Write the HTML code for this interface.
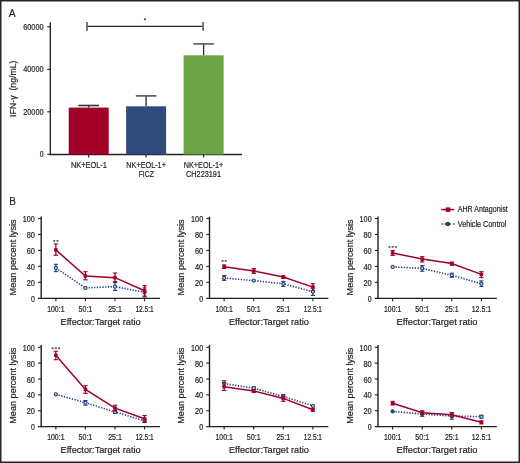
<!DOCTYPE html>
<html><head><meta charset="utf-8"><style>
html,body{margin:0;padding:0;background:#fff;}
svg{display:block;}
text{filter:grayscale(1);}
text{font-family:"Liberation Sans", sans-serif;stroke:#231f20;stroke-width:0.2px;}
</style></head><body>
<svg width="520" height="463" viewBox="0 0 520 463">
<rect x="0" y="0" width="520" height="463" fill="#fff"/>
<text x="8.7" y="17.4" font-size="11.6" text-anchor="start" fill="#231f20" textLength="6.9" lengthAdjust="spacingAndGlyphs" >A</text>
<line x1="50.3" y1="22.3" x2="50.3" y2="155.2" stroke="#231f20" stroke-width="1.3" />
<line x1="49.699999999999996" y1="154.5" x2="242" y2="154.5" stroke="#231f20" stroke-width="1.3" />
<line x1="47.2" y1="26.80000000000001" x2="50.3" y2="26.80000000000001" stroke="#231f20" stroke-width="1.1" />
<text x="43.6" y="29.900000000000013" font-size="9.0" text-anchor="end" fill="#231f20" textLength="20.4" lengthAdjust="spacingAndGlyphs" >60000</text>
<line x1="47.2" y1="69.30000000000001" x2="50.3" y2="69.30000000000001" stroke="#231f20" stroke-width="1.1" />
<text x="43.6" y="72.4" font-size="9.0" text-anchor="end" fill="#231f20" textLength="20.4" lengthAdjust="spacingAndGlyphs" >40000</text>
<line x1="47.2" y1="111.80000000000001" x2="50.3" y2="111.80000000000001" stroke="#231f20" stroke-width="1.1" />
<text x="43.6" y="114.9" font-size="9.0" text-anchor="end" fill="#231f20" textLength="20.4" lengthAdjust="spacingAndGlyphs" >20000</text>
<line x1="47.2" y1="154.3" x2="50.3" y2="154.3" stroke="#231f20" stroke-width="1.1" />
<text x="43.6" y="157.4" font-size="9.0" text-anchor="end" fill="#231f20" textLength="3.8" lengthAdjust="spacingAndGlyphs" >0</text>
<text transform="translate(16.4,0) rotate(-90)" x="-117.0" y="0" font-size="8.9" fill="#231f20" textLength="21.6" lengthAdjust="spacingAndGlyphs">IFN-&#947;</text>
<text transform="translate(16.4,0) rotate(-90)" x="-90.6" y="0" font-size="8.9" fill="#231f20" textLength="30.0" lengthAdjust="spacingAndGlyphs">(ng/mL)</text>
<rect x="68.7" y="107.60" width="40" height="46.90" fill="#a30028"/>
<line x1="88.7" y1="105.5" x2="88.7" y2="107.6" stroke="#2a2a2a" stroke-width="1.3" />
<line x1="78.4" y1="105.5" x2="99.0" y2="105.5" stroke="#333" stroke-width="1.6" />
<line x1="88.7" y1="154.5" x2="88.7" y2="157.4" stroke="#231f20" stroke-width="1.1" />
<rect x="126.1" y="106.30" width="40" height="48.20" fill="#2e4b7c"/>
<line x1="146.1" y1="95.9" x2="146.1" y2="106.3" stroke="#2a2a2a" stroke-width="1.3" />
<line x1="135.79999999999998" y1="95.9" x2="156.4" y2="95.9" stroke="#505050" stroke-width="1.6" />
<line x1="146.1" y1="154.5" x2="146.1" y2="157.4" stroke="#231f20" stroke-width="1.1" />
<rect x="183.6" y="55.30" width="40" height="99.20" fill="#6ba543"/>
<line x1="203.6" y1="43.9" x2="203.6" y2="55.3" stroke="#2a2a2a" stroke-width="1.3" />
<line x1="193.29999999999998" y1="43.9" x2="213.9" y2="43.9" stroke="#5a5a5a" stroke-width="1.6" />
<line x1="203.6" y1="154.5" x2="203.6" y2="157.4" stroke="#231f20" stroke-width="1.1" />
<line x1="87.0" y1="26.4" x2="203.1" y2="26.4" stroke="#262626" stroke-width="1.25" />
<line x1="87.0" y1="22.0" x2="87.0" y2="30.7" stroke="#6e6e6e" stroke-width="1.9" />
<line x1="203.1" y1="22.0" x2="203.1" y2="30.7" stroke="#6e6e6e" stroke-width="1.9" />
<circle cx="145" cy="19.3" r="1.05" fill="#333"/>
<text x="88.9" y="167.9" font-size="8.6" text-anchor="middle" fill="#231f20" textLength="36.0" lengthAdjust="spacingAndGlyphs" >NK+EOL-1</text>
<text x="146.1" y="167.9" font-size="8.6" text-anchor="middle" fill="#231f20" textLength="39.6" lengthAdjust="spacingAndGlyphs" >NK+EOL-1+</text>
<text x="146.3" y="176.9" font-size="8.6" text-anchor="middle" fill="#231f20" textLength="15.2" lengthAdjust="spacingAndGlyphs" >FICZ</text>
<text x="203.5" y="167.9" font-size="8.6" text-anchor="middle" fill="#231f20" textLength="39.6" lengthAdjust="spacingAndGlyphs" >NK+EOL-1+</text>
<text x="203.5" y="176.9" font-size="8.6" text-anchor="middle" fill="#231f20" textLength="34.9" lengthAdjust="spacingAndGlyphs" >CH223191</text>
<text x="9.2" y="204.8" font-size="11.2" text-anchor="start" fill="#231f20" textLength="6.6" lengthAdjust="spacingAndGlyphs" >B</text>
<line x1="41.2" y1="216.6" x2="41.2" y2="298.90000000000003" stroke="#231f20" stroke-width="1.4" />
<line x1="38.0" y1="298.3" x2="160.0" y2="298.3" stroke="#231f20" stroke-width="1.3" />
<text x="34.900000000000006" y="301.8" font-size="8.4" text-anchor="end" fill="#231f20" textLength="3.9" lengthAdjust="spacingAndGlyphs" >0</text>
<line x1="38.0" y1="282.34000000000003" x2="41.2" y2="282.34000000000003" stroke="#231f20" stroke-width="1.1" />
<text x="34.900000000000006" y="285.84000000000003" font-size="8.4" text-anchor="end" fill="#231f20" textLength="8.2" lengthAdjust="spacingAndGlyphs" >20</text>
<line x1="38.0" y1="266.38" x2="41.2" y2="266.38" stroke="#231f20" stroke-width="1.1" />
<text x="34.900000000000006" y="269.88" font-size="8.4" text-anchor="end" fill="#231f20" textLength="8.2" lengthAdjust="spacingAndGlyphs" >40</text>
<line x1="38.0" y1="250.42000000000002" x2="41.2" y2="250.42000000000002" stroke="#231f20" stroke-width="1.1" />
<text x="34.900000000000006" y="253.92000000000002" font-size="8.4" text-anchor="end" fill="#231f20" textLength="8.2" lengthAdjust="spacingAndGlyphs" >60</text>
<line x1="38.0" y1="234.46" x2="41.2" y2="234.46" stroke="#231f20" stroke-width="1.1" />
<text x="34.900000000000006" y="237.96" font-size="8.4" text-anchor="end" fill="#231f20" textLength="8.2" lengthAdjust="spacingAndGlyphs" >80</text>
<line x1="38.0" y1="218.5" x2="41.2" y2="218.5" stroke="#231f20" stroke-width="1.1" />
<text x="34.900000000000006" y="222.0" font-size="8.4" text-anchor="end" fill="#231f20" textLength="12.1" lengthAdjust="spacingAndGlyphs" >100</text>
<line x1="55.85" y1="298.3" x2="55.85" y2="301.2" stroke="#231f20" stroke-width="1.1" />
<text x="55.85" y="312.0" font-size="8.5" text-anchor="middle" fill="#231f20" textLength="17.4" lengthAdjust="spacingAndGlyphs" >100:1</text>
<line x1="85.43" y1="298.3" x2="85.43" y2="301.2" stroke="#231f20" stroke-width="1.1" />
<text x="85.43" y="312.0" font-size="8.5" text-anchor="middle" fill="#231f20" textLength="13.8" lengthAdjust="spacingAndGlyphs" >50:1</text>
<line x1="115.01" y1="298.3" x2="115.01" y2="301.2" stroke="#231f20" stroke-width="1.1" />
<text x="115.01" y="312.0" font-size="8.5" text-anchor="middle" fill="#231f20" textLength="13.7" lengthAdjust="spacingAndGlyphs" >25:1</text>
<line x1="144.59" y1="298.3" x2="144.59" y2="301.2" stroke="#231f20" stroke-width="1.1" />
<text x="144.59" y="312.0" font-size="8.5" text-anchor="middle" fill="#231f20" textLength="18.3" lengthAdjust="spacingAndGlyphs" >12.5:1</text>
<text x="100.6" y="324.90000000000003" font-size="9.1" text-anchor="middle" fill="#231f20" textLength="80.0" lengthAdjust="spacingAndGlyphs" >Effector:Target ratio</text>
<text transform="translate(15.900000000000002,257.45) rotate(-90)" font-size="8.9" text-anchor="middle" fill="#231f20" textLength="76.0" lengthAdjust="spacingAndGlyphs">Mean percent lysis</text>
<polyline points="55.85,268.00 85.43,287.90 115.01,286.60 144.59,292.30" fill="none" stroke="#233f80" stroke-width="1.6" stroke-dasharray="1.3 1.47"/>
<line x1="55.85" y1="264.3" x2="55.85" y2="271.6" stroke="#233f80" stroke-width="1.25" />
<line x1="53.75" y1="264.3" x2="57.95" y2="264.3" stroke="#233f80" stroke-width="1.1" />
<line x1="53.75" y1="271.6" x2="57.95" y2="271.6" stroke="#233f80" stroke-width="1.1" />
<circle cx="55.85" cy="268.00" r="1.6" fill="#c5d0e4" stroke="#233f80" stroke-width="1.1"/>
<circle cx="85.43" cy="287.90" r="1.6" fill="#c5d0e4" stroke="#233f80" stroke-width="1.1"/>
<line x1="115.01" y1="281.6" x2="115.01" y2="290.4" stroke="#233f80" stroke-width="1.25" />
<line x1="112.91000000000001" y1="281.6" x2="117.11" y2="281.6" stroke="#233f80" stroke-width="1.1" />
<line x1="112.91000000000001" y1="290.4" x2="117.11" y2="290.4" stroke="#233f80" stroke-width="1.1" />
<circle cx="115.01" cy="286.60" r="1.6" fill="#c5d0e4" stroke="#233f80" stroke-width="1.1"/>
<line x1="144.59" y1="287.9" x2="144.59" y2="297.0" stroke="#233f80" stroke-width="1.25" />
<line x1="142.49" y1="287.9" x2="146.69" y2="287.9" stroke="#233f80" stroke-width="1.1" />
<line x1="142.49" y1="297.0" x2="146.69" y2="297.0" stroke="#233f80" stroke-width="1.1" />
<circle cx="144.59" cy="292.30" r="1.6" fill="#c5d0e4" stroke="#233f80" stroke-width="1.1"/>
<polyline points="55.85,249.90 85.43,276.00 115.01,277.65 144.59,290.70" fill="none" stroke="#a2002b" stroke-width="1.5"/>
<line x1="55.85" y1="243.9" x2="55.85" y2="255.3" stroke="#a2002b" stroke-width="1.25" />
<line x1="53.65" y1="243.9" x2="58.050000000000004" y2="243.9" stroke="#a2002b" stroke-width="1.1" />
<line x1="53.65" y1="255.3" x2="58.050000000000004" y2="255.3" stroke="#a2002b" stroke-width="1.1" />
<rect x="54.05" y="248.10" width="3.6" height="3.6" rx="0.9" fill="#a2002b"/>
<line x1="85.43" y1="271.7" x2="85.43" y2="279.8" stroke="#a2002b" stroke-width="1.25" />
<line x1="83.23" y1="271.7" x2="87.63000000000001" y2="271.7" stroke="#a2002b" stroke-width="1.1" />
<line x1="83.23" y1="279.8" x2="87.63000000000001" y2="279.8" stroke="#a2002b" stroke-width="1.1" />
<rect x="83.63" y="274.20" width="3.6" height="3.6" rx="0.9" fill="#a2002b"/>
<line x1="115.01" y1="273.0" x2="115.01" y2="282.5" stroke="#a2002b" stroke-width="1.25" />
<line x1="112.81" y1="273.0" x2="117.21000000000001" y2="273.0" stroke="#a2002b" stroke-width="1.1" />
<line x1="112.81" y1="282.5" x2="117.21000000000001" y2="282.5" stroke="#a2002b" stroke-width="1.1" />
<rect x="113.21" y="275.85" width="3.6" height="3.6" rx="0.9" fill="#a2002b"/>
<line x1="144.59" y1="285.6" x2="144.59" y2="296.1" stroke="#a2002b" stroke-width="1.25" />
<line x1="142.39000000000001" y1="285.6" x2="146.79" y2="285.6" stroke="#a2002b" stroke-width="1.1" />
<line x1="142.39000000000001" y1="296.1" x2="146.79" y2="296.1" stroke="#a2002b" stroke-width="1.1" />
<rect x="142.79" y="288.90" width="3.6" height="3.6" rx="0.9" fill="#a2002b"/>
<rect x="53.20" y="239.95" width="2.1" height="1.9" rx="0.7" fill="#555"/>
<rect x="56.40" y="239.95" width="2.1" height="1.9" rx="0.7" fill="#555"/>
<line x1="209.5" y1="216.6" x2="209.5" y2="298.90000000000003" stroke="#231f20" stroke-width="1.4" />
<line x1="206.3" y1="298.3" x2="328.3" y2="298.3" stroke="#231f20" stroke-width="1.3" />
<text x="203.2" y="301.8" font-size="8.4" text-anchor="end" fill="#231f20" textLength="3.9" lengthAdjust="spacingAndGlyphs" >0</text>
<line x1="206.3" y1="282.34000000000003" x2="209.5" y2="282.34000000000003" stroke="#231f20" stroke-width="1.1" />
<text x="203.2" y="285.84000000000003" font-size="8.4" text-anchor="end" fill="#231f20" textLength="8.2" lengthAdjust="spacingAndGlyphs" >20</text>
<line x1="206.3" y1="266.38" x2="209.5" y2="266.38" stroke="#231f20" stroke-width="1.1" />
<text x="203.2" y="269.88" font-size="8.4" text-anchor="end" fill="#231f20" textLength="8.2" lengthAdjust="spacingAndGlyphs" >40</text>
<line x1="206.3" y1="250.42000000000002" x2="209.5" y2="250.42000000000002" stroke="#231f20" stroke-width="1.1" />
<text x="203.2" y="253.92000000000002" font-size="8.4" text-anchor="end" fill="#231f20" textLength="8.2" lengthAdjust="spacingAndGlyphs" >60</text>
<line x1="206.3" y1="234.46" x2="209.5" y2="234.46" stroke="#231f20" stroke-width="1.1" />
<text x="203.2" y="237.96" font-size="8.4" text-anchor="end" fill="#231f20" textLength="8.2" lengthAdjust="spacingAndGlyphs" >80</text>
<line x1="206.3" y1="218.5" x2="209.5" y2="218.5" stroke="#231f20" stroke-width="1.1" />
<text x="203.2" y="222.0" font-size="8.4" text-anchor="end" fill="#231f20" textLength="12.1" lengthAdjust="spacingAndGlyphs" >100</text>
<line x1="224.15" y1="298.3" x2="224.15" y2="301.2" stroke="#231f20" stroke-width="1.1" />
<text x="224.15" y="312.0" font-size="8.5" text-anchor="middle" fill="#231f20" textLength="17.4" lengthAdjust="spacingAndGlyphs" >100:1</text>
<line x1="253.73" y1="298.3" x2="253.73" y2="301.2" stroke="#231f20" stroke-width="1.1" />
<text x="253.73" y="312.0" font-size="8.5" text-anchor="middle" fill="#231f20" textLength="13.8" lengthAdjust="spacingAndGlyphs" >50:1</text>
<line x1="283.31" y1="298.3" x2="283.31" y2="301.2" stroke="#231f20" stroke-width="1.1" />
<text x="283.31" y="312.0" font-size="8.5" text-anchor="middle" fill="#231f20" textLength="13.7" lengthAdjust="spacingAndGlyphs" >25:1</text>
<line x1="312.89" y1="298.3" x2="312.89" y2="301.2" stroke="#231f20" stroke-width="1.1" />
<text x="312.89" y="312.0" font-size="8.5" text-anchor="middle" fill="#231f20" textLength="18.3" lengthAdjust="spacingAndGlyphs" >12.5:1</text>
<text x="268.9" y="324.90000000000003" font-size="9.1" text-anchor="middle" fill="#231f20" textLength="80.0" lengthAdjust="spacingAndGlyphs" >Effector:Target ratio</text>
<text transform="translate(184.2,257.45) rotate(-90)" font-size="8.9" text-anchor="middle" fill="#231f20" textLength="76.0" lengthAdjust="spacingAndGlyphs">Mean percent lysis</text>
<polyline points="224.15,278.00 253.73,280.60 283.31,283.80 312.89,291.80" fill="none" stroke="#233f80" stroke-width="1.6" stroke-dasharray="1.3 1.47"/>
<line x1="224.15" y1="275.6" x2="224.15" y2="280.4" stroke="#233f80" stroke-width="1.25" />
<line x1="222.05" y1="275.6" x2="226.25" y2="275.6" stroke="#233f80" stroke-width="1.1" />
<line x1="222.05" y1="280.4" x2="226.25" y2="280.4" stroke="#233f80" stroke-width="1.1" />
<circle cx="224.15" cy="278.00" r="1.6" fill="#c5d0e4" stroke="#233f80" stroke-width="1.1"/>
<circle cx="253.73" cy="280.60" r="1.6" fill="#c5d0e4" stroke="#233f80" stroke-width="1.1"/>
<line x1="283.31" y1="281.4" x2="283.31" y2="286.4" stroke="#233f80" stroke-width="1.25" />
<line x1="281.21" y1="281.4" x2="285.41" y2="281.4" stroke="#233f80" stroke-width="1.1" />
<line x1="281.21" y1="286.4" x2="285.41" y2="286.4" stroke="#233f80" stroke-width="1.1" />
<circle cx="283.31" cy="283.80" r="1.6" fill="#c5d0e4" stroke="#233f80" stroke-width="1.1"/>
<line x1="312.89" y1="288.2" x2="312.89" y2="295.4" stroke="#233f80" stroke-width="1.25" />
<line x1="310.78999999999996" y1="288.2" x2="314.99" y2="288.2" stroke="#233f80" stroke-width="1.1" />
<line x1="310.78999999999996" y1="295.4" x2="314.99" y2="295.4" stroke="#233f80" stroke-width="1.1" />
<circle cx="312.89" cy="291.80" r="1.6" fill="#c5d0e4" stroke="#233f80" stroke-width="1.1"/>
<polyline points="224.15,266.70 253.73,271.00 283.31,277.10 312.89,287.10" fill="none" stroke="#a2002b" stroke-width="1.5"/>
<line x1="224.15" y1="264.9" x2="224.15" y2="268.5" stroke="#a2002b" stroke-width="1.25" />
<line x1="221.95000000000002" y1="264.9" x2="226.35" y2="264.9" stroke="#a2002b" stroke-width="1.1" />
<line x1="221.95000000000002" y1="268.5" x2="226.35" y2="268.5" stroke="#a2002b" stroke-width="1.1" />
<rect x="222.35" y="264.90" width="3.6" height="3.6" rx="0.9" fill="#a2002b"/>
<line x1="253.73" y1="268.6" x2="253.73" y2="273.4" stroke="#a2002b" stroke-width="1.25" />
<line x1="251.53" y1="268.6" x2="255.92999999999998" y2="268.6" stroke="#a2002b" stroke-width="1.1" />
<line x1="251.53" y1="273.4" x2="255.92999999999998" y2="273.4" stroke="#a2002b" stroke-width="1.1" />
<rect x="251.93" y="269.20" width="3.6" height="3.6" rx="0.9" fill="#a2002b"/>
<line x1="283.31" y1="275.9" x2="283.31" y2="278.3" stroke="#a2002b" stroke-width="1.25" />
<line x1="281.11" y1="275.9" x2="285.51" y2="275.9" stroke="#a2002b" stroke-width="1.1" />
<line x1="281.11" y1="278.3" x2="285.51" y2="278.3" stroke="#a2002b" stroke-width="1.1" />
<rect x="281.51" y="275.30" width="3.6" height="3.6" rx="0.9" fill="#a2002b"/>
<line x1="312.89" y1="283.7" x2="312.89" y2="290.5" stroke="#a2002b" stroke-width="1.25" />
<line x1="310.69" y1="283.7" x2="315.09" y2="283.7" stroke="#a2002b" stroke-width="1.1" />
<line x1="310.69" y1="290.5" x2="315.09" y2="290.5" stroke="#a2002b" stroke-width="1.1" />
<rect x="311.09" y="285.30" width="3.6" height="3.6" rx="0.9" fill="#a2002b"/>
<rect x="221.50" y="259.95" width="2.1" height="1.9" rx="0.7" fill="#555"/>
<rect x="224.70" y="259.95" width="2.1" height="1.9" rx="0.7" fill="#555"/>
<line x1="378.0" y1="216.6" x2="378.0" y2="298.90000000000003" stroke="#231f20" stroke-width="1.4" />
<line x1="374.8" y1="298.3" x2="496.8" y2="298.3" stroke="#231f20" stroke-width="1.3" />
<text x="371.7" y="301.8" font-size="8.4" text-anchor="end" fill="#231f20" textLength="3.9" lengthAdjust="spacingAndGlyphs" >0</text>
<line x1="374.8" y1="282.34000000000003" x2="378.0" y2="282.34000000000003" stroke="#231f20" stroke-width="1.1" />
<text x="371.7" y="285.84000000000003" font-size="8.4" text-anchor="end" fill="#231f20" textLength="8.2" lengthAdjust="spacingAndGlyphs" >20</text>
<line x1="374.8" y1="266.38" x2="378.0" y2="266.38" stroke="#231f20" stroke-width="1.1" />
<text x="371.7" y="269.88" font-size="8.4" text-anchor="end" fill="#231f20" textLength="8.2" lengthAdjust="spacingAndGlyphs" >40</text>
<line x1="374.8" y1="250.42000000000002" x2="378.0" y2="250.42000000000002" stroke="#231f20" stroke-width="1.1" />
<text x="371.7" y="253.92000000000002" font-size="8.4" text-anchor="end" fill="#231f20" textLength="8.2" lengthAdjust="spacingAndGlyphs" >60</text>
<line x1="374.8" y1="234.46" x2="378.0" y2="234.46" stroke="#231f20" stroke-width="1.1" />
<text x="371.7" y="237.96" font-size="8.4" text-anchor="end" fill="#231f20" textLength="8.2" lengthAdjust="spacingAndGlyphs" >80</text>
<line x1="374.8" y1="218.5" x2="378.0" y2="218.5" stroke="#231f20" stroke-width="1.1" />
<text x="371.7" y="222.0" font-size="8.4" text-anchor="end" fill="#231f20" textLength="12.1" lengthAdjust="spacingAndGlyphs" >100</text>
<line x1="392.65" y1="298.3" x2="392.65" y2="301.2" stroke="#231f20" stroke-width="1.1" />
<text x="392.65" y="312.0" font-size="8.5" text-anchor="middle" fill="#231f20" textLength="17.4" lengthAdjust="spacingAndGlyphs" >100:1</text>
<line x1="422.23" y1="298.3" x2="422.23" y2="301.2" stroke="#231f20" stroke-width="1.1" />
<text x="422.23" y="312.0" font-size="8.5" text-anchor="middle" fill="#231f20" textLength="13.8" lengthAdjust="spacingAndGlyphs" >50:1</text>
<line x1="451.81" y1="298.3" x2="451.81" y2="301.2" stroke="#231f20" stroke-width="1.1" />
<text x="451.81" y="312.0" font-size="8.5" text-anchor="middle" fill="#231f20" textLength="13.7" lengthAdjust="spacingAndGlyphs" >25:1</text>
<line x1="481.39" y1="298.3" x2="481.39" y2="301.2" stroke="#231f20" stroke-width="1.1" />
<text x="481.39" y="312.0" font-size="8.5" text-anchor="middle" fill="#231f20" textLength="19.2" lengthAdjust="spacingAndGlyphs" >12.5:1</text>
<text x="437.0" y="324.90000000000003" font-size="9.1" text-anchor="middle" fill="#231f20" textLength="80.8" lengthAdjust="spacingAndGlyphs" >Effector:Target ratio</text>
<text transform="translate(352.7,257.45) rotate(-90)" font-size="8.9" text-anchor="middle" fill="#231f20" textLength="76.0" lengthAdjust="spacingAndGlyphs">Mean percent lysis</text>
<polyline points="392.65,266.90 422.23,268.40 451.81,275.30 481.39,283.70" fill="none" stroke="#233f80" stroke-width="1.6" stroke-dasharray="1.3 1.47"/>
<circle cx="392.65" cy="266.90" r="1.6" fill="#c5d0e4" stroke="#233f80" stroke-width="1.1"/>
<line x1="422.23" y1="265.7" x2="422.23" y2="271.2" stroke="#233f80" stroke-width="1.25" />
<line x1="420.13" y1="265.7" x2="424.33000000000004" y2="265.7" stroke="#233f80" stroke-width="1.1" />
<line x1="420.13" y1="271.2" x2="424.33000000000004" y2="271.2" stroke="#233f80" stroke-width="1.1" />
<circle cx="422.23" cy="268.40" r="1.6" fill="#c5d0e4" stroke="#233f80" stroke-width="1.1"/>
<line x1="451.81" y1="273.2" x2="451.81" y2="277.3" stroke="#233f80" stroke-width="1.25" />
<line x1="449.71" y1="273.2" x2="453.91" y2="273.2" stroke="#233f80" stroke-width="1.1" />
<line x1="449.71" y1="277.3" x2="453.91" y2="277.3" stroke="#233f80" stroke-width="1.1" />
<circle cx="451.81" cy="275.30" r="1.6" fill="#c5d0e4" stroke="#233f80" stroke-width="1.1"/>
<line x1="481.39" y1="280.9" x2="481.39" y2="286.5" stroke="#233f80" stroke-width="1.25" />
<line x1="479.28999999999996" y1="280.9" x2="483.49" y2="280.9" stroke="#233f80" stroke-width="1.1" />
<line x1="479.28999999999996" y1="286.5" x2="483.49" y2="286.5" stroke="#233f80" stroke-width="1.1" />
<circle cx="481.39" cy="283.70" r="1.6" fill="#c5d0e4" stroke="#233f80" stroke-width="1.1"/>
<polyline points="392.65,253.00 422.23,259.10 451.81,263.60 481.39,274.40" fill="none" stroke="#a2002b" stroke-width="1.5"/>
<line x1="392.65" y1="250.6" x2="392.65" y2="255.4" stroke="#a2002b" stroke-width="1.25" />
<line x1="390.45" y1="250.6" x2="394.84999999999997" y2="250.6" stroke="#a2002b" stroke-width="1.1" />
<line x1="390.45" y1="255.4" x2="394.84999999999997" y2="255.4" stroke="#a2002b" stroke-width="1.1" />
<rect x="390.85" y="251.20" width="3.6" height="3.6" rx="0.9" fill="#a2002b"/>
<line x1="422.23" y1="256.7" x2="422.23" y2="262.0" stroke="#a2002b" stroke-width="1.25" />
<line x1="420.03000000000003" y1="256.7" x2="424.43" y2="256.7" stroke="#a2002b" stroke-width="1.1" />
<line x1="420.03000000000003" y1="262.0" x2="424.43" y2="262.0" stroke="#a2002b" stroke-width="1.1" />
<rect x="420.43" y="257.30" width="3.6" height="3.6" rx="0.9" fill="#a2002b"/>
<line x1="451.81" y1="262.2" x2="451.81" y2="265.2" stroke="#a2002b" stroke-width="1.25" />
<line x1="449.61" y1="262.2" x2="454.01" y2="262.2" stroke="#a2002b" stroke-width="1.1" />
<line x1="449.61" y1="265.2" x2="454.01" y2="265.2" stroke="#a2002b" stroke-width="1.1" />
<rect x="450.01" y="261.80" width="3.6" height="3.6" rx="0.9" fill="#a2002b"/>
<line x1="481.39" y1="271.7" x2="481.39" y2="277.6" stroke="#a2002b" stroke-width="1.25" />
<line x1="479.19" y1="271.7" x2="483.59" y2="271.7" stroke="#a2002b" stroke-width="1.1" />
<line x1="479.19" y1="277.6" x2="483.59" y2="277.6" stroke="#a2002b" stroke-width="1.1" />
<rect x="479.59" y="272.60" width="3.6" height="3.6" rx="0.9" fill="#a2002b"/>
<rect x="388.40" y="245.95" width="2.1" height="1.9" rx="0.7" fill="#555"/>
<rect x="391.60" y="245.95" width="2.1" height="1.9" rx="0.7" fill="#555"/>
<rect x="394.80" y="245.95" width="2.1" height="1.9" rx="0.7" fill="#555"/>
<line x1="41.2" y1="344.9" x2="41.2" y2="427.20000000000005" stroke="#231f20" stroke-width="1.4" />
<line x1="38.0" y1="426.6" x2="160.0" y2="426.6" stroke="#231f20" stroke-width="1.3" />
<text x="34.900000000000006" y="430.1" font-size="8.4" text-anchor="end" fill="#231f20" textLength="3.9" lengthAdjust="spacingAndGlyphs" >0</text>
<line x1="38.0" y1="410.74" x2="41.2" y2="410.74" stroke="#231f20" stroke-width="1.1" />
<text x="34.900000000000006" y="414.24" font-size="8.4" text-anchor="end" fill="#231f20" textLength="8.2" lengthAdjust="spacingAndGlyphs" >20</text>
<line x1="38.0" y1="394.88" x2="41.2" y2="394.88" stroke="#231f20" stroke-width="1.1" />
<text x="34.900000000000006" y="398.38" font-size="8.4" text-anchor="end" fill="#231f20" textLength="8.2" lengthAdjust="spacingAndGlyphs" >40</text>
<line x1="38.0" y1="379.02" x2="41.2" y2="379.02" stroke="#231f20" stroke-width="1.1" />
<text x="34.900000000000006" y="382.52" font-size="8.4" text-anchor="end" fill="#231f20" textLength="8.2" lengthAdjust="spacingAndGlyphs" >60</text>
<line x1="38.0" y1="363.16" x2="41.2" y2="363.16" stroke="#231f20" stroke-width="1.1" />
<text x="34.900000000000006" y="366.66" font-size="8.4" text-anchor="end" fill="#231f20" textLength="8.2" lengthAdjust="spacingAndGlyphs" >80</text>
<line x1="38.0" y1="347.3" x2="41.2" y2="347.3" stroke="#231f20" stroke-width="1.1" />
<text x="34.900000000000006" y="350.8" font-size="8.4" text-anchor="end" fill="#231f20" textLength="12.1" lengthAdjust="spacingAndGlyphs" >100</text>
<line x1="55.85" y1="426.6" x2="55.85" y2="429.5" stroke="#231f20" stroke-width="1.1" />
<text x="55.85" y="440.3" font-size="8.5" text-anchor="middle" fill="#231f20" textLength="17.4" lengthAdjust="spacingAndGlyphs" >100:1</text>
<line x1="85.43" y1="426.6" x2="85.43" y2="429.5" stroke="#231f20" stroke-width="1.1" />
<text x="85.43" y="440.3" font-size="8.5" text-anchor="middle" fill="#231f20" textLength="13.8" lengthAdjust="spacingAndGlyphs" >50:1</text>
<line x1="115.01" y1="426.6" x2="115.01" y2="429.5" stroke="#231f20" stroke-width="1.1" />
<text x="115.01" y="440.3" font-size="8.5" text-anchor="middle" fill="#231f20" textLength="13.7" lengthAdjust="spacingAndGlyphs" >25:1</text>
<line x1="144.59" y1="426.6" x2="144.59" y2="429.5" stroke="#231f20" stroke-width="1.1" />
<text x="144.59" y="440.3" font-size="8.5" text-anchor="middle" fill="#231f20" textLength="18.3" lengthAdjust="spacingAndGlyphs" >12.5:1</text>
<text x="100.6" y="453.20000000000005" font-size="9.1" text-anchor="middle" fill="#231f20" textLength="80.0" lengthAdjust="spacingAndGlyphs" >Effector:Target ratio</text>
<text transform="translate(15.900000000000002,385.75) rotate(-90)" font-size="8.9" text-anchor="middle" fill="#231f20" textLength="76.0" lengthAdjust="spacingAndGlyphs">Mean percent lysis</text>
<polyline points="55.85,394.30 85.43,402.70 115.01,412.00 144.59,420.80" fill="none" stroke="#233f80" stroke-width="1.6" stroke-dasharray="1.3 1.47"/>
<circle cx="55.85" cy="394.30" r="1.6" fill="#c5d0e4" stroke="#233f80" stroke-width="1.1"/>
<line x1="85.43" y1="400.6" x2="85.43" y2="405.2" stroke="#233f80" stroke-width="1.25" />
<line x1="83.33000000000001" y1="400.6" x2="87.53" y2="400.6" stroke="#233f80" stroke-width="1.1" />
<line x1="83.33000000000001" y1="405.2" x2="87.53" y2="405.2" stroke="#233f80" stroke-width="1.1" />
<circle cx="85.43" cy="402.70" r="1.6" fill="#c5d0e4" stroke="#233f80" stroke-width="1.1"/>
<line x1="115.01" y1="410.6" x2="115.01" y2="413.4" stroke="#233f80" stroke-width="1.25" />
<line x1="112.91000000000001" y1="410.6" x2="117.11" y2="410.6" stroke="#233f80" stroke-width="1.1" />
<line x1="112.91000000000001" y1="413.4" x2="117.11" y2="413.4" stroke="#233f80" stroke-width="1.1" />
<circle cx="115.01" cy="412.00" r="1.6" fill="#c5d0e4" stroke="#233f80" stroke-width="1.1"/>
<line x1="144.59" y1="419.4" x2="144.59" y2="422.2" stroke="#233f80" stroke-width="1.25" />
<line x1="142.49" y1="419.4" x2="146.69" y2="419.4" stroke="#233f80" stroke-width="1.1" />
<line x1="142.49" y1="422.2" x2="146.69" y2="422.2" stroke="#233f80" stroke-width="1.1" />
<circle cx="144.59" cy="420.80" r="1.6" fill="#c5d0e4" stroke="#233f80" stroke-width="1.1"/>
<polyline points="55.85,355.30 85.43,389.40 115.01,408.10 144.59,418.70" fill="none" stroke="#a2002b" stroke-width="1.5"/>
<line x1="55.85" y1="351.3" x2="55.85" y2="359.7" stroke="#a2002b" stroke-width="1.25" />
<line x1="53.65" y1="351.3" x2="58.050000000000004" y2="351.3" stroke="#a2002b" stroke-width="1.1" />
<line x1="53.65" y1="359.7" x2="58.050000000000004" y2="359.7" stroke="#a2002b" stroke-width="1.1" />
<rect x="54.05" y="353.50" width="3.6" height="3.6" rx="0.9" fill="#a2002b"/>
<line x1="85.43" y1="385.7" x2="85.43" y2="393.4" stroke="#a2002b" stroke-width="1.25" />
<line x1="83.23" y1="385.7" x2="87.63000000000001" y2="385.7" stroke="#a2002b" stroke-width="1.1" />
<line x1="83.23" y1="393.4" x2="87.63000000000001" y2="393.4" stroke="#a2002b" stroke-width="1.1" />
<rect x="83.63" y="387.60" width="3.6" height="3.6" rx="0.9" fill="#a2002b"/>
<line x1="115.01" y1="405.2" x2="115.01" y2="411.0" stroke="#a2002b" stroke-width="1.25" />
<line x1="112.81" y1="405.2" x2="117.21000000000001" y2="405.2" stroke="#a2002b" stroke-width="1.1" />
<line x1="112.81" y1="411.0" x2="117.21000000000001" y2="411.0" stroke="#a2002b" stroke-width="1.1" />
<rect x="113.21" y="406.30" width="3.6" height="3.6" rx="0.9" fill="#a2002b"/>
<line x1="144.59" y1="415.5" x2="144.59" y2="422.4" stroke="#a2002b" stroke-width="1.25" />
<line x1="142.39000000000001" y1="415.5" x2="146.79" y2="415.5" stroke="#a2002b" stroke-width="1.1" />
<line x1="142.39000000000001" y1="422.4" x2="146.79" y2="422.4" stroke="#a2002b" stroke-width="1.1" />
<rect x="142.79" y="416.90" width="3.6" height="3.6" rx="0.9" fill="#a2002b"/>
<rect x="51.60" y="347.25" width="2.1" height="1.9" rx="0.7" fill="#555"/>
<rect x="54.80" y="347.25" width="2.1" height="1.9" rx="0.7" fill="#555"/>
<rect x="58.00" y="347.25" width="2.1" height="1.9" rx="0.7" fill="#555"/>
<line x1="209.5" y1="344.9" x2="209.5" y2="427.20000000000005" stroke="#231f20" stroke-width="1.4" />
<line x1="206.3" y1="426.6" x2="328.3" y2="426.6" stroke="#231f20" stroke-width="1.3" />
<text x="203.2" y="430.1" font-size="8.4" text-anchor="end" fill="#231f20" textLength="3.9" lengthAdjust="spacingAndGlyphs" >0</text>
<line x1="206.3" y1="410.74" x2="209.5" y2="410.74" stroke="#231f20" stroke-width="1.1" />
<text x="203.2" y="414.24" font-size="8.4" text-anchor="end" fill="#231f20" textLength="8.2" lengthAdjust="spacingAndGlyphs" >20</text>
<line x1="206.3" y1="394.88" x2="209.5" y2="394.88" stroke="#231f20" stroke-width="1.1" />
<text x="203.2" y="398.38" font-size="8.4" text-anchor="end" fill="#231f20" textLength="8.2" lengthAdjust="spacingAndGlyphs" >40</text>
<line x1="206.3" y1="379.02" x2="209.5" y2="379.02" stroke="#231f20" stroke-width="1.1" />
<text x="203.2" y="382.52" font-size="8.4" text-anchor="end" fill="#231f20" textLength="8.2" lengthAdjust="spacingAndGlyphs" >60</text>
<line x1="206.3" y1="363.16" x2="209.5" y2="363.16" stroke="#231f20" stroke-width="1.1" />
<text x="203.2" y="366.66" font-size="8.4" text-anchor="end" fill="#231f20" textLength="8.2" lengthAdjust="spacingAndGlyphs" >80</text>
<line x1="206.3" y1="347.3" x2="209.5" y2="347.3" stroke="#231f20" stroke-width="1.1" />
<text x="203.2" y="350.8" font-size="8.4" text-anchor="end" fill="#231f20" textLength="12.1" lengthAdjust="spacingAndGlyphs" >100</text>
<line x1="224.15" y1="426.6" x2="224.15" y2="429.5" stroke="#231f20" stroke-width="1.1" />
<text x="224.15" y="440.3" font-size="8.5" text-anchor="middle" fill="#231f20" textLength="17.4" lengthAdjust="spacingAndGlyphs" >100:1</text>
<line x1="253.73" y1="426.6" x2="253.73" y2="429.5" stroke="#231f20" stroke-width="1.1" />
<text x="253.73" y="440.3" font-size="8.5" text-anchor="middle" fill="#231f20" textLength="13.8" lengthAdjust="spacingAndGlyphs" >50:1</text>
<line x1="283.31" y1="426.6" x2="283.31" y2="429.5" stroke="#231f20" stroke-width="1.1" />
<text x="283.31" y="440.3" font-size="8.5" text-anchor="middle" fill="#231f20" textLength="13.7" lengthAdjust="spacingAndGlyphs" >25:1</text>
<line x1="312.89" y1="426.6" x2="312.89" y2="429.5" stroke="#231f20" stroke-width="1.1" />
<text x="312.89" y="440.3" font-size="8.5" text-anchor="middle" fill="#231f20" textLength="18.3" lengthAdjust="spacingAndGlyphs" >12.5:1</text>
<text x="268.9" y="453.20000000000005" font-size="9.1" text-anchor="middle" fill="#231f20" textLength="80.0" lengthAdjust="spacingAndGlyphs" >Effector:Target ratio</text>
<text transform="translate(184.2,385.75) rotate(-90)" font-size="8.9" text-anchor="middle" fill="#231f20" textLength="76.0" lengthAdjust="spacingAndGlyphs">Mean percent lysis</text>
<polyline points="224.15,383.60 253.73,388.10 283.31,396.60 312.89,405.80" fill="none" stroke="#233f80" stroke-width="1.6" stroke-dasharray="1.3 1.47"/>
<line x1="224.15" y1="380.7" x2="224.15" y2="386.5" stroke="#233f80" stroke-width="1.25" />
<line x1="222.05" y1="380.7" x2="226.25" y2="380.7" stroke="#233f80" stroke-width="1.1" />
<line x1="222.05" y1="386.5" x2="226.25" y2="386.5" stroke="#233f80" stroke-width="1.1" />
<circle cx="224.15" cy="383.60" r="1.6" fill="#c5d0e4" stroke="#233f80" stroke-width="1.1"/>
<line x1="253.73" y1="386.9" x2="253.73" y2="389.3" stroke="#233f80" stroke-width="1.25" />
<line x1="251.63" y1="386.9" x2="255.82999999999998" y2="386.9" stroke="#233f80" stroke-width="1.1" />
<line x1="251.63" y1="389.3" x2="255.82999999999998" y2="389.3" stroke="#233f80" stroke-width="1.1" />
<circle cx="253.73" cy="388.10" r="1.6" fill="#c5d0e4" stroke="#233f80" stroke-width="1.1"/>
<line x1="283.31" y1="394.5" x2="283.31" y2="398.7" stroke="#233f80" stroke-width="1.25" />
<line x1="281.21" y1="394.5" x2="285.41" y2="394.5" stroke="#233f80" stroke-width="1.1" />
<line x1="281.21" y1="398.7" x2="285.41" y2="398.7" stroke="#233f80" stroke-width="1.1" />
<circle cx="283.31" cy="396.60" r="1.6" fill="#c5d0e4" stroke="#233f80" stroke-width="1.1"/>
<circle cx="312.89" cy="405.80" r="1.6" fill="#c5d0e4" stroke="#233f80" stroke-width="1.1"/>
<polyline points="224.15,386.70 253.73,391.00 283.31,398.40 312.89,409.70" fill="none" stroke="#a2002b" stroke-width="1.5"/>
<line x1="224.15" y1="382.7" x2="224.15" y2="390.5" stroke="#a2002b" stroke-width="1.25" />
<line x1="221.95000000000002" y1="382.7" x2="226.35" y2="382.7" stroke="#a2002b" stroke-width="1.1" />
<line x1="221.95000000000002" y1="390.5" x2="226.35" y2="390.5" stroke="#a2002b" stroke-width="1.1" />
<rect x="222.35" y="384.90" width="3.6" height="3.6" rx="0.9" fill="#a2002b"/>
<line x1="253.73" y1="389.6" x2="253.73" y2="392.4" stroke="#a2002b" stroke-width="1.25" />
<line x1="251.53" y1="389.6" x2="255.92999999999998" y2="389.6" stroke="#a2002b" stroke-width="1.1" />
<line x1="251.53" y1="392.4" x2="255.92999999999998" y2="392.4" stroke="#a2002b" stroke-width="1.1" />
<rect x="251.93" y="389.20" width="3.6" height="3.6" rx="0.9" fill="#a2002b"/>
<line x1="283.31" y1="396.3" x2="283.31" y2="401.3" stroke="#a2002b" stroke-width="1.25" />
<line x1="281.11" y1="396.3" x2="285.51" y2="396.3" stroke="#a2002b" stroke-width="1.1" />
<line x1="281.11" y1="401.3" x2="285.51" y2="401.3" stroke="#a2002b" stroke-width="1.1" />
<rect x="281.51" y="396.60" width="3.6" height="3.6" rx="0.9" fill="#a2002b"/>
<line x1="312.89" y1="408.1" x2="312.89" y2="411.3" stroke="#a2002b" stroke-width="1.25" />
<line x1="310.69" y1="408.1" x2="315.09" y2="408.1" stroke="#a2002b" stroke-width="1.1" />
<line x1="310.69" y1="411.3" x2="315.09" y2="411.3" stroke="#a2002b" stroke-width="1.1" />
<rect x="311.09" y="407.90" width="3.6" height="3.6" rx="0.9" fill="#a2002b"/>
<line x1="378.0" y1="344.9" x2="378.0" y2="427.20000000000005" stroke="#231f20" stroke-width="1.4" />
<line x1="374.8" y1="426.6" x2="496.8" y2="426.6" stroke="#231f20" stroke-width="1.3" />
<text x="371.7" y="430.1" font-size="8.4" text-anchor="end" fill="#231f20" textLength="3.9" lengthAdjust="spacingAndGlyphs" >0</text>
<line x1="374.8" y1="410.74" x2="378.0" y2="410.74" stroke="#231f20" stroke-width="1.1" />
<text x="371.7" y="414.24" font-size="8.4" text-anchor="end" fill="#231f20" textLength="8.2" lengthAdjust="spacingAndGlyphs" >20</text>
<line x1="374.8" y1="394.88" x2="378.0" y2="394.88" stroke="#231f20" stroke-width="1.1" />
<text x="371.7" y="398.38" font-size="8.4" text-anchor="end" fill="#231f20" textLength="8.2" lengthAdjust="spacingAndGlyphs" >40</text>
<line x1="374.8" y1="379.02" x2="378.0" y2="379.02" stroke="#231f20" stroke-width="1.1" />
<text x="371.7" y="382.52" font-size="8.4" text-anchor="end" fill="#231f20" textLength="8.2" lengthAdjust="spacingAndGlyphs" >60</text>
<line x1="374.8" y1="363.16" x2="378.0" y2="363.16" stroke="#231f20" stroke-width="1.1" />
<text x="371.7" y="366.66" font-size="8.4" text-anchor="end" fill="#231f20" textLength="8.2" lengthAdjust="spacingAndGlyphs" >80</text>
<line x1="374.8" y1="347.3" x2="378.0" y2="347.3" stroke="#231f20" stroke-width="1.1" />
<text x="371.7" y="350.8" font-size="8.4" text-anchor="end" fill="#231f20" textLength="12.1" lengthAdjust="spacingAndGlyphs" >100</text>
<line x1="392.65" y1="426.6" x2="392.65" y2="429.5" stroke="#231f20" stroke-width="1.1" />
<text x="392.65" y="440.3" font-size="8.5" text-anchor="middle" fill="#231f20" textLength="17.4" lengthAdjust="spacingAndGlyphs" >100:1</text>
<line x1="422.23" y1="426.6" x2="422.23" y2="429.5" stroke="#231f20" stroke-width="1.1" />
<text x="422.23" y="440.3" font-size="8.5" text-anchor="middle" fill="#231f20" textLength="13.8" lengthAdjust="spacingAndGlyphs" >50:1</text>
<line x1="451.81" y1="426.6" x2="451.81" y2="429.5" stroke="#231f20" stroke-width="1.1" />
<text x="451.81" y="440.3" font-size="8.5" text-anchor="middle" fill="#231f20" textLength="13.7" lengthAdjust="spacingAndGlyphs" >25:1</text>
<line x1="481.39" y1="426.6" x2="481.39" y2="429.5" stroke="#231f20" stroke-width="1.1" />
<text x="481.39" y="440.3" font-size="8.5" text-anchor="middle" fill="#231f20" textLength="19.2" lengthAdjust="spacingAndGlyphs" >12.5:1</text>
<text x="437.0" y="453.20000000000005" font-size="9.1" text-anchor="middle" fill="#231f20" textLength="80.8" lengthAdjust="spacingAndGlyphs" >Effector:Target ratio</text>
<text transform="translate(352.7,385.75) rotate(-90)" font-size="8.9" text-anchor="middle" fill="#231f20" textLength="76.0" lengthAdjust="spacingAndGlyphs">Mean percent lysis</text>
<polyline points="392.65,411.40 422.23,414.00 451.81,416.00 481.39,416.60" fill="none" stroke="#233f80" stroke-width="1.6" stroke-dasharray="1.3 1.47"/>
<circle cx="392.65" cy="411.40" r="1.6" fill="#233f80" stroke="#233f80" stroke-width="1.1"/>
<line x1="422.23" y1="411.7" x2="422.23" y2="416.3" stroke="#233f80" stroke-width="1.25" />
<line x1="420.13" y1="411.7" x2="424.33000000000004" y2="411.7" stroke="#233f80" stroke-width="1.1" />
<line x1="420.13" y1="416.3" x2="424.33000000000004" y2="416.3" stroke="#233f80" stroke-width="1.1" />
<circle cx="422.23" cy="414.00" r="1.6" fill="#c5d0e4" stroke="#233f80" stroke-width="1.1"/>
<line x1="451.81" y1="412.8" x2="451.81" y2="419.2" stroke="#233f80" stroke-width="1.25" />
<line x1="449.71" y1="412.8" x2="453.91" y2="412.8" stroke="#233f80" stroke-width="1.1" />
<line x1="449.71" y1="419.2" x2="453.91" y2="419.2" stroke="#233f80" stroke-width="1.1" />
<circle cx="451.81" cy="416.00" r="1.6" fill="#c5d0e4" stroke="#233f80" stroke-width="1.1"/>
<line x1="481.39" y1="415.4" x2="481.39" y2="418.2" stroke="#233f80" stroke-width="1.25" />
<line x1="479.28999999999996" y1="415.4" x2="483.49" y2="415.4" stroke="#233f80" stroke-width="1.1" />
<line x1="479.28999999999996" y1="418.2" x2="483.49" y2="418.2" stroke="#233f80" stroke-width="1.1" />
<circle cx="481.39" cy="416.60" r="1.6" fill="#c5d0e4" stroke="#233f80" stroke-width="1.1"/>
<polyline points="392.65,403.30 422.23,412.70 451.81,414.70 481.39,422.30" fill="none" stroke="#a2002b" stroke-width="1.5"/>
<line x1="392.65" y1="401.4" x2="392.65" y2="405.0" stroke="#a2002b" stroke-width="1.25" />
<line x1="390.45" y1="401.4" x2="394.84999999999997" y2="401.4" stroke="#a2002b" stroke-width="1.1" />
<line x1="390.45" y1="405.0" x2="394.84999999999997" y2="405.0" stroke="#a2002b" stroke-width="1.1" />
<rect x="390.85" y="401.50" width="3.6" height="3.6" rx="0.9" fill="#a2002b"/>
<line x1="422.23" y1="410.8" x2="422.23" y2="414.5" stroke="#a2002b" stroke-width="1.25" />
<line x1="420.03000000000003" y1="410.8" x2="424.43" y2="410.8" stroke="#a2002b" stroke-width="1.1" />
<line x1="420.03000000000003" y1="414.5" x2="424.43" y2="414.5" stroke="#a2002b" stroke-width="1.1" />
<rect x="420.43" y="410.90" width="3.6" height="3.6" rx="0.9" fill="#a2002b"/>
<line x1="451.81" y1="412.8" x2="451.81" y2="416.8" stroke="#a2002b" stroke-width="1.25" />
<line x1="449.61" y1="412.8" x2="454.01" y2="412.8" stroke="#a2002b" stroke-width="1.1" />
<line x1="449.61" y1="416.8" x2="454.01" y2="416.8" stroke="#a2002b" stroke-width="1.1" />
<rect x="450.01" y="412.90" width="3.6" height="3.6" rx="0.9" fill="#a2002b"/>
<line x1="481.39" y1="420.9" x2="481.39" y2="423.9" stroke="#a2002b" stroke-width="1.25" />
<line x1="479.19" y1="420.9" x2="483.59" y2="420.9" stroke="#a2002b" stroke-width="1.1" />
<line x1="479.19" y1="423.9" x2="483.59" y2="423.9" stroke="#a2002b" stroke-width="1.1" />
<rect x="479.59" y="420.50" width="3.6" height="3.6" rx="0.9" fill="#a2002b"/>
<line x1="441.2" y1="209.6" x2="454.3" y2="209.6" stroke="#a2002b" stroke-width="1.5" />
<rect x="445.7" y="207.4" width="4.6" height="4.5" fill="#a2002b"/>
<rect x="441.5" y="223.3" width="1.4" height="1.4" fill="#233f80"/>
<rect x="452.9" y="223.3" width="1.4" height="1.4" fill="#233f80"/>
<line x1="444.4" y1="224.0" x2="451.2" y2="224.0" stroke="#233f80" stroke-width="1.4" />
<circle cx="447.8" cy="224.0" r="2.35" fill="#233f80"/>
<text x="457.7" y="211.8" font-size="8.3" text-anchor="start" fill="#231f20" textLength="50.0" lengthAdjust="spacingAndGlyphs" >AHR Antagonist</text>
<text x="457.7" y="226.7" font-size="8.3" text-anchor="start" fill="#231f20" textLength="48.8" lengthAdjust="spacingAndGlyphs" >Vehicle Control</text>
<rect x="0.75" y="0.75" width="518.5" height="461.5" fill="none" stroke="#252525" stroke-width="1.5"/>
</svg>
</body></html>
